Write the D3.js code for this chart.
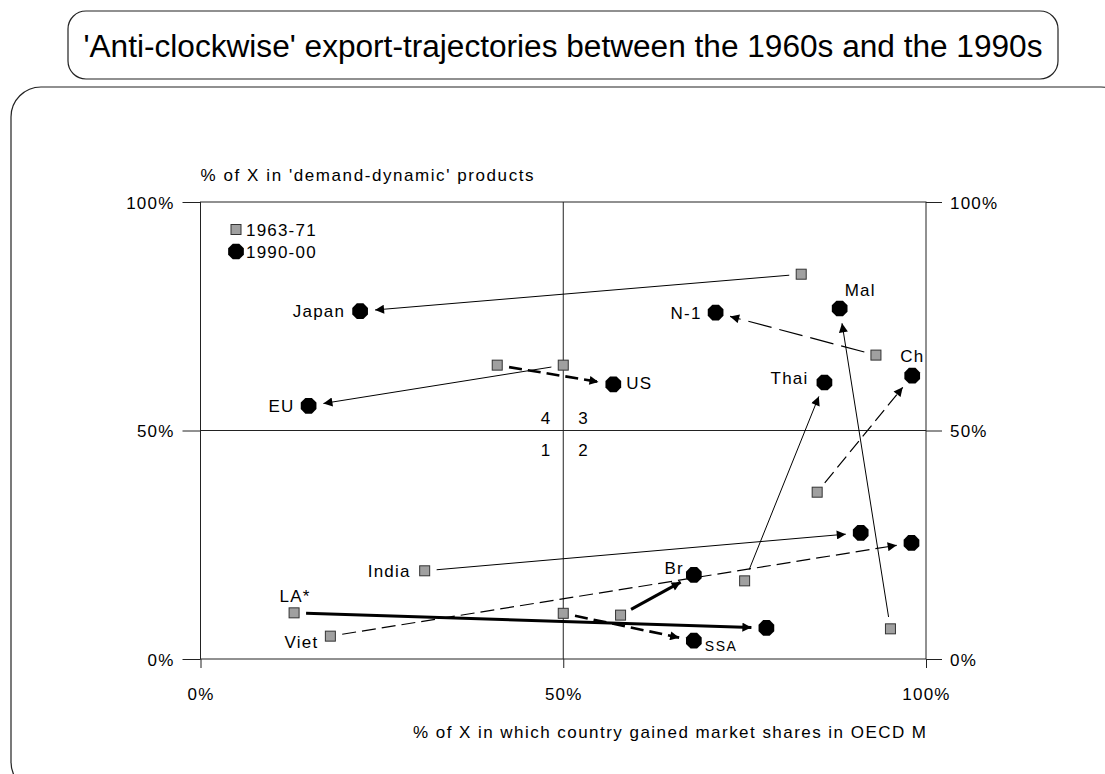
<!DOCTYPE html>
<html>
<head>
<meta charset="utf-8">
<script src="https://cdn.jsdelivr.net/npm/d3@7"></script>
<style>
  body { margin: 0; background: #fff; }
  svg text { font-family: "Liberation Sans", Arial, sans-serif; fill: #000; }
</style>
</head>
<body>
<div id="chart"></div>
<script>
// values, in percent
const countries = ['Japan', 'US', 'EU', 'N-1', 'Mal', 'Ch', 'Thai', 'India', 'Viet', 'LA*', 'Br', 'SSA'];
const x1960s = [82.8, 40.9, 50.0, 93.1, 95.1, 85.0, 75.0, 30.9, 17.9, 12.9, 57.9, 50.0];
const y1960s = [84.2, 64.3, 64.3, 66.5, 6.6, 36.5, 17.1, 19.3, 5.0, 10.1, 9.6, 10.0];
const x1990s = [22.0, 56.9, 14.9, 71.0, 88.1, 98.1, 86.0, 91.0, 98.0, 78.0, 68.0, 68.0];
const y1990s = [76.1, 60.1, 55.4, 75.8, 76.7, 62.0, 60.5, 27.6, 25.4, 6.8, 18.4, 4.0];
const tickValues = [0, 50, 100];
const legendLabels = ['1963-71', '1990-00'];
const quadrants = ['1', '2', '3', '4'];

// how each trajectory is drawn
const lineStyle = {
  'Japan': 'thin', 'EU': 'thin', 'Mal': 'thin', 'Thai': 'thin', 'India': 'thin',
  'LA*': 'thick', 'Br': 'thick',
  'US': 'thickDash', 'SSA': 'thickDash',
  'N-1': 'thinDashLong', 'Ch': 'thinDash', 'Viet': 'thinDash'
};
const styleDefs = {
  thin: { w: 1, dash: null },
  thick: { w: 3, dash: null },
  thickDash: { w: 2.6, dash: '13,6' },
  thinDash: { w: 1.2, dash: '14,6' },
  thinDashLong: { w: 1.2, dash: '24,8' }
};
// label placement: [which marker, dx, dy, anchor]
const labelPos = {
  'Japan': ['new', -15, 6, 'end'],
  'US': ['new', 13, 5, 'start'],
  'EU': ['new', -14, 6, 'end'],
  'N-1': ['new', -14, 6, 'end'],
  'Mal': ['new', 5, -12, 'start'],
  'Ch': ['new', -12, -14, 'start'],
  'Thai': ['new', -16, 1, 'end'],
  'India': ['old', -14, 6, 'end'],
  'Viet': ['old', -12, 12, 'end'],
  'LA*': ['old', 1, -11, 'middle'],
  'Br': ['new', -10, -1, 'end'],
  'SSA': ['new', 11, 10, 'start']
};

const W = 1105, H = 774;
const svg = d3.select('#chart').append('svg')
  .attr('width', W).attr('height', H);

// boxes
svg.append('rect')
  .attr('x', 68).attr('y', 11).attr('width', 990).attr('height', 68)
  .attr('rx', 18).attr('fill', 'none').attr('stroke', '#222').attr('stroke-width', 1.2);
svg.append('text')
  .attr('x', 563).attr('y', 57)
  .attr('text-anchor', 'middle')
  .attr('textLength', 959).attr('lengthAdjust', 'spacingAndGlyphs')
  .style('font-size', '31px')
  .text("'Anti-clockwise' export-trajectories between the 1960s and the 1990s");
svg.append('rect')
  .attr('x', 11).attr('y', 87).attr('width', 1120).attr('height', 705)
  .attr('rx', 30).attr('fill', 'none').attr('stroke', '#222').attr('stroke-width', 1.2);

const x = d3.scaleLinear().domain([0, 100]).range([200.5, 926]);
const y = d3.scaleLinear().domain([0, 100]).range([659, 202]);

const fmt = d => d + '%';

// axes
const axL = svg.append('g').attr('transform', `translate(${x(0)},0)`)
  .call(d3.axisLeft(y).tickValues(tickValues).tickFormat(fmt).tickSize(18).tickPadding(8));
const axR = svg.append('g').attr('transform', `translate(${x(100)},0)`)
  .call(d3.axisRight(y).tickValues(tickValues).tickFormat(fmt).tickSize(16).tickPadding(8));
const axB = svg.append('g').attr('transform', `translate(0,${y(0)})`)
  .call(d3.axisBottom(x).tickValues(tickValues).tickFormat(fmt).tickSize(9).tickPadding(20));
[axL, axR, axB].forEach(g => {
  g.select('.domain').remove();
  g.selectAll('.tick line').attr('stroke', '#222');
  g.selectAll('.tick text')
    .style('font-size', '17px').style('letter-spacing', '1.2px')
    .attr('font-family', null).attr('fill', '#000');
});
axL.selectAll('.tick text').attr('dy', '0.38em');
axR.selectAll('.tick text').attr('dy', '0.38em');

// frame and 50% lines
svg.append('rect')
  .attr('x', x(0)).attr('y', y(100))
  .attr('width', x(100) - x(0)).attr('height', y(0) - y(100))
  .attr('fill', 'none').attr('stroke', '#222').attr('stroke-width', 1);
svg.append('line')
  .attr('x1', x(0)).attr('x2', x(100)).attr('y1', y(50)).attr('y2', y(50))
  .attr('stroke', '#222');
svg.append('line')
  .attr('x1', x(50)).attr('x2', x(50)).attr('y1', y(0)).attr('y2', y(100))
  .attr('stroke', '#222');

// axis titles
svg.append('text')
  .attr('x', x(0)).attr('y', 181)
  .attr('textLength', 333).attr('lengthAdjust', 'spacing')
  .style('font-size', '17px')
  .text("% of X in 'demand-dynamic' products");
svg.append('text')
  .attr('x', 413).attr('y', 738)
  .attr('textLength', 513).attr('lengthAdjust', 'spacing')
  .style('font-size', '17px')
  .text('% of X in which country gained market shares in OECD M');

// quadrant numbers
const qx = { '1': -13, '4': -13, '2': 15, '3': 15 };
const qy = { '1': 25, '2': 25, '3': -7, '4': -7 };
svg.selectAll('.quad').data(quadrants).join('text')
  .attr('class', 'quad')
  .attr('x', d => x(50) + qx[d]).attr('y', d => y(50) + qy[d])
  .attr('text-anchor', d => qx[d] < 0 ? 'end' : 'start')
  .style('font-size', '17px')
  .text(d => d);

// arrowhead
svg.append('defs').append('marker')
  .attr('id', 'arrow')
  .attr('viewBox', '0 0 10 10')
  .attr('refX', 10).attr('refY', 5)
  .attr('markerWidth', 11).attr('markerHeight', 9)
  .attr('markerUnits', 'userSpaceOnUse')
  .attr('orient', 'auto')
  .append('path').attr('d', 'M0,0 L10,5 L0,10 Z').attr('fill', '#000');

const octagon = r => d3.range(8).map(i => {
  const a = Math.PI / 8 + i * Math.PI / 4;
  return [r * Math.cos(a), r * Math.sin(a)];
});
const octPath = 'M' + octagon(8.5).map(p => p.join(',')).join('L') + 'Z';

const rows = countries.map((c, i) => ({
  name: c,
  x0: x(x1960s[i]), y0: y(y1960s[i]),
  x1: x(x1990s[i]), y1: y(y1990s[i])
}));

// trajectories
svg.selectAll('.traj').data(rows).join('line')
  .attr('class', 'traj')
  .each(function (d) {
    const dx = d.x1 - d.x0, dy = d.y1 - d.y0;
    const len = Math.hypot(dx, dy);
    const ux = dx / len, uy = dy / len;
    const s = styleDefs[lineStyle[d.name]];
    d3.select(this)
      .attr('x1', d.x0 + ux * 12).attr('y1', d.y0 + uy * 12)
      .attr('x2', d.x1 - ux * 15).attr('y2', d.y1 - uy * 15)
      .attr('stroke', '#000')
      .attr('stroke-width', s.w)
      .attr('stroke-dasharray', s.dash)
      .attr('marker-end', 'url(#arrow)');
  });

// markers
svg.selectAll('.old').data(rows).join('rect')
  .attr('class', 'old')
  .attr('x', d => d.x0 - 5).attr('y', d => d.y0 - 5)
  .attr('width', 10).attr('height', 10)
  .attr('fill', '#a0a0a0').attr('stroke', '#333').attr('stroke-width', 1);
svg.selectAll('.new').data(rows).join('path')
  .attr('class', 'new')
  .attr('transform', d => `translate(${d.x1},${d.y1})`)
  .attr('d', octPath).attr('fill', '#000');

// country labels
svg.selectAll('.lab').data(rows).join('text')
  .attr('class', 'lab')
  .each(function (d) {
    const [which, dx, dy, anchor] = labelPos[d.name];
    const px = which === 'old' ? d.x0 : d.x1;
    const py = which === 'old' ? d.y0 : d.y1;
    d3.select(this)
      .attr('x', px + dx).attr('y', py + dy)
      .attr('text-anchor', anchor)
      .style('font-size', d.name === 'SSA' ? '14px' : '17px')
      .style('letter-spacing', d.name === 'SSA' ? '1.5px' : '1.2px')
      .text(d.name);
  });

// legend
const leg = svg.append('g');
leg.append('rect')
  .attr('x', 231).attr('y', 224.5).attr('width', 10).attr('height', 10)
  .attr('fill', '#a0a0a0').attr('stroke', '#333');
leg.append('path')
  .attr('transform', 'translate(236,251.5)')
  .attr('d', octPath).attr('fill', '#000');
leg.selectAll('text').data(legendLabels).join('text')
  .attr('x', 246).attr('y', (d, i) => 235.5 + i * 22)
  .style('font-size', '17px').style('letter-spacing', '1.2px')
  .text(d => d);
</script>
</body>
</html>
